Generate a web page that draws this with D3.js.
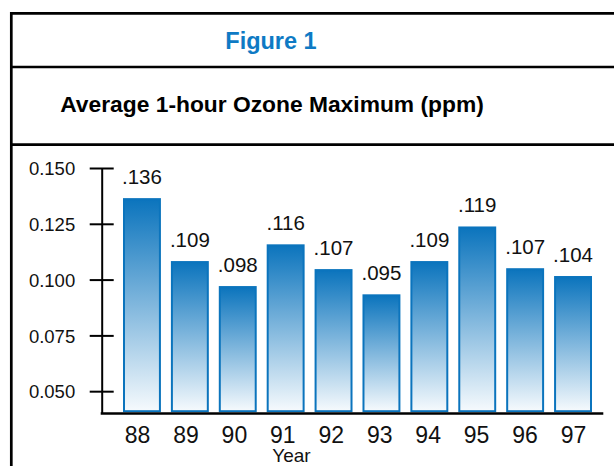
<!DOCTYPE html>
<html>
<head>
<meta charset="utf-8">
<script src="https://cdn.jsdelivr.net/npm/d3@7"></script>
<style>
  html, body { margin: 0; padding: 0; background: #fff; }
  svg { display: block; font-family: "Liberation Sans", Arial, sans-serif; }
</style>
</head>
<body>
<script>
// chart data
const years = ["88", "89", "90", "91", "92", "93", "94", "95", "96", "97"];
const valueLabels = [".136", ".109", ".098", ".116", ".107", ".095", ".109", ".119", ".107", ".104"];
// bar heights as drawn (they differ slightly from the printed labels)
const barValues = [0.1365, 0.1083, 0.0971, 0.1158, 0.1047, 0.0934, 0.1083, 0.1238, 0.1051, 0.1016];
const yTicks = [0.050, 0.075, 0.100, 0.125, 0.150];

const width = 614, height = 466;
const blue = "#0b74bd";

const svg = d3.select("body")
    .append("svg")
    .attr("width", width)
    .attr("height", height);

svg.append("rect")
    .attr("width", width)
    .attr("height", height)
    .attr("fill", "#fff");

// frame
const frame = svg.append("g")
    .attr("stroke", "#000")
    .attr("stroke-width", 2.7)
    .attr("fill", "none");
frame.append("path").attr("d", "M11.3,466V13.4H614");
frame.append("line").attr("x1", 10).attr("x2", 614).attr("y1", 67).attr("y2", 67);
frame.append("line").attr("x1", 10).attr("x2", 614).attr("y1", 144.7).attr("y2", 144.7);

svg.append("text")
    .attr("x", 271)
    .attr("y", 49)
    .attr("text-anchor", "middle")
    .attr("font-size", 23.5)
    .attr("font-weight", "bold")
    .attr("fill", "#0e7ac4")
    .text("Figure 1");

svg.append("text")
    .attr("x", 272)
    .attr("y", 111.5)
    .attr("text-anchor", "middle")
    .attr("font-size", 22.8)
    .attr("font-weight", "bold")
    .attr("fill", "#000")
    .text("Average 1-hour Ozone Maximum (ppm)");

// scales
const y = d3.scaleLinear()
    .domain([0.04, 0.15])
    .range([413.5, 168]);

const x = d3.scaleBand()
    .domain(years)
    .range([124, 591])
    .paddingInner(0.25)
    .paddingOuter(0);

const xLabel = d3.scalePoint()
    .domain(years)
    .range([137, 573]);

// gradient for the bars
const grad = svg.append("defs")
    .append("linearGradient")
    .attr("id", "barGrad")
    .attr("x1", 0).attr("y1", 0)
    .attr("x2", 0).attr("y2", 1);
grad.append("stop").attr("offset", 0).attr("stop-color", blue);
grad.append("stop").attr("offset", 1).attr("stop-color", "#f6fafd");

// bars
svg.append("g")
    .selectAll("rect")
    .data(barValues)
    .join("rect")
    .attr("x", (d, i) => x(years[i]))
    .attr("y", d => y(d) + 1)
    .attr("width", x.bandwidth())
    .attr("height", d => y(0.04) - 2.3 - (y(d) + 1))
    .attr("fill", "url(#barGrad)")
    .attr("stroke", blue)
    .attr("stroke-width", 2);

// value labels
svg.append("g")
    .selectAll("text")
    .data(barValues)
    .join("text")
    .attr("x", (d, i) => x(years[i]) + x.bandwidth() / 2)
    .attr("y", d => y(d) - 14)
    .attr("text-anchor", "middle")
    .attr("font-size", 20.5)
    .attr("fill", "#111")
    .text((d, i) => valueLabels[i]);

// y axis
const yAxis = svg.append("g")
    .attr("transform", "translate(101.7,0)")
    .call(d3.axisLeft(y)
        .tickValues(yTicks)
        .tickFormat(d3.format(".3f"))
        .tickSize(12)
        .tickSizeOuter(0)
        .tickPadding(14.5));
yAxis.select(".domain").attr("stroke", "#000").attr("stroke-width", 2);
yAxis.selectAll(".tick line")
    .attr("x1", -12).attr("x2", 12)
    .attr("stroke", "#000").attr("stroke-width", 2);
yAxis.selectAll(".tick text")
    .attr("font-size", 18.5)
    .attr("font-family", "Liberation Sans, Arial, sans-serif")
    .attr("fill", "#111")
    .attr("dy", "0.36em");

// x axis
svg.append("line")
    .attr("x1", 100.7).attr("x2", 603.3)
    .attr("y1", y(0.04)).attr("y2", y(0.04))
    .attr("stroke", "#000")
    .attr("stroke-width", 2.6);

const xAxis = svg.append("g")
    .attr("transform", "translate(0,425.5)")
    .call(d3.axisBottom(xLabel).tickSize(0).tickPadding(0));
xAxis.select(".domain").remove();
xAxis.selectAll(".tick text")
    .attr("font-size", 23)
    .attr("font-family", "Liberation Sans, Arial, sans-serif")
    .attr("fill", "#111")
    .attr("dy", "0.76em");

svg.append("text")
    .attr("x", 291.5)
    .attr("y", 461.5)
    .attr("text-anchor", "middle")
    .attr("font-size", 19)
    .attr("fill", "#111")
    .text("Year");
</script>
</body>
</html>
